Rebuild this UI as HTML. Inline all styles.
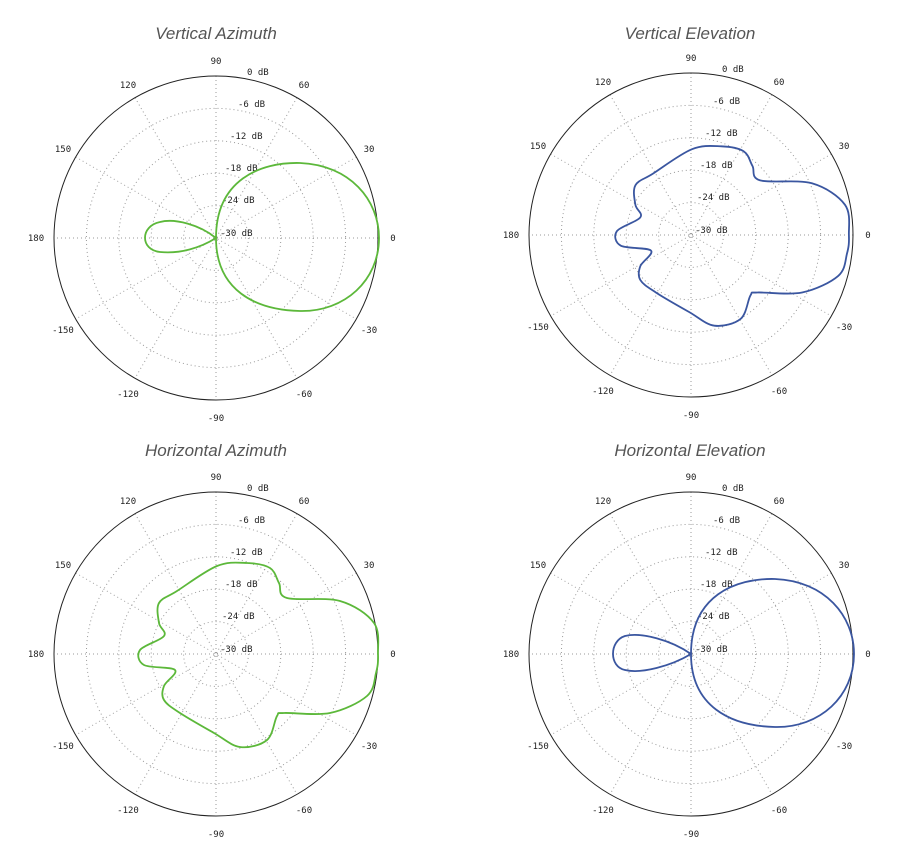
<!DOCTYPE html>
<html><head><meta charset="utf-8"><style>
html,body{margin:0;padding:0;background:#fff;}
svg{display:block}
.t{font-family:"Liberation Sans",sans-serif;font-style:italic;font-size:17px;fill:#555;text-anchor:middle}
.a{font-family:"DejaVu Sans Mono","Liberation Mono",monospace;font-size:9px;fill:#222;text-anchor:middle}
.d{font-family:"DejaVu Sans Mono","Liberation Mono",monospace;font-size:9px;fill:#222}
</style></head><body>
<svg id="s" width="912" height="856" viewBox="0 0 912 856" xmlns="http://www.w3.org/2000/svg">
<text class="t" x="216" y="39">Vertical Azimuth</text>
<text class="t" x="690" y="39">Vertical Elevation</text>
<text class="t" x="216" y="456">Horizontal Azimuth</text>
<text class="t" x="690" y="456">Horizontal Elevation</text>
<g id="g0" transform="translate(216,238)"><g class="grid"></g>
<text class="a" x="177" y="3">0</text><text class="a" x="153" y="-86">30</text><text class="a" x="88" y="-150">60</text><text class="a" x="0" y="-174">90</text><text class="a" x="-88" y="-150">120</text><text class="a" x="-153" y="-86">150</text><text class="a" x="-180" y="3">180</text><text class="a" x="-153" y="95">-150</text><text class="a" x="-88" y="159">-120</text><text class="a" x="0" y="183">-90</text><text class="a" x="88" y="159">-60</text><text class="a" x="153" y="95">-30</text>
<text class="d" x="31" y="-163">0 dB</text><text class="d" x="22" y="-131">-6 dB</text><text class="d" x="14" y="-99">-12 dB</text><text class="d" x="9" y="-67">-18 dB</text><text class="d" x="6" y="-35">-24 dB</text><text class="d" x="4" y="-2">-30 dB</text>
</g>
<g id="g1" transform="translate(691,235)"><g class="grid"></g>
<text class="a" x="177" y="3">0</text><text class="a" x="153" y="-86">30</text><text class="a" x="88" y="-150">60</text><text class="a" x="0" y="-174">90</text><text class="a" x="-88" y="-150">120</text><text class="a" x="-153" y="-86">150</text><text class="a" x="-180" y="3">180</text><text class="a" x="-153" y="95">-150</text><text class="a" x="-88" y="159">-120</text><text class="a" x="0" y="183">-90</text><text class="a" x="88" y="159">-60</text><text class="a" x="153" y="95">-30</text>
<text class="d" x="31" y="-163">0 dB</text><text class="d" x="22" y="-131">-6 dB</text><text class="d" x="14" y="-99">-12 dB</text><text class="d" x="9" y="-67">-18 dB</text><text class="d" x="6" y="-35">-24 dB</text><text class="d" x="4" y="-2">-30 dB</text>
</g>
<g id="g2" transform="translate(216,654)"><g class="grid"></g>
<text class="a" x="177" y="3">0</text><text class="a" x="153" y="-86">30</text><text class="a" x="88" y="-150">60</text><text class="a" x="0" y="-174">90</text><text class="a" x="-88" y="-150">120</text><text class="a" x="-153" y="-86">150</text><text class="a" x="-180" y="3">180</text><text class="a" x="-153" y="95">-150</text><text class="a" x="-88" y="159">-120</text><text class="a" x="0" y="183">-90</text><text class="a" x="88" y="159">-60</text><text class="a" x="153" y="95">-30</text>
<text class="d" x="31" y="-163">0 dB</text><text class="d" x="22" y="-131">-6 dB</text><text class="d" x="14" y="-99">-12 dB</text><text class="d" x="9" y="-67">-18 dB</text><text class="d" x="6" y="-35">-24 dB</text><text class="d" x="4" y="-2">-30 dB</text>
</g>
<g id="g3" transform="translate(691,654)"><g class="grid"></g>
<text class="a" x="177" y="3">0</text><text class="a" x="153" y="-86">30</text><text class="a" x="88" y="-150">60</text><text class="a" x="0" y="-174">90</text><text class="a" x="-88" y="-150">120</text><text class="a" x="-153" y="-86">150</text><text class="a" x="-180" y="3">180</text><text class="a" x="-153" y="95">-150</text><text class="a" x="-88" y="159">-120</text><text class="a" x="0" y="183">-90</text><text class="a" x="88" y="159">-60</text><text class="a" x="153" y="95">-30</text>
<text class="d" x="31" y="-163">0 dB</text><text class="d" x="22" y="-131">-6 dB</text><text class="d" x="14" y="-99">-12 dB</text><text class="d" x="9" y="-67">-18 dB</text><text class="d" x="6" y="-35">-24 dB</text><text class="d" x="4" y="-2">-30 dB</text>
</g>
</svg>
<script>
var NS="http://www.w3.org/2000/svg";
function el(p,n,a){var e=document.createElementNS(NS,n);for(var k in a)e.setAttribute(k,a[k]);p.appendChild(e);return e;}
var R=162;
for(var i=0;i<4;i++){
  var g=document.querySelector('#g'+i+' .grid');
  for(var k=1;k<5;k++) el(g,'circle',{cx:0,cy:0,r:R*k/5,fill:'none',stroke:'#999','stroke-width':1,'stroke-dasharray':'1 3'});
  for(var a=0;a<180;a+=30){var r=a*Math.PI/180;
    el(g,'line',{x1:R*Math.cos(r),y1:-R*Math.sin(r),x2:-R*Math.cos(r),y2:R*Math.sin(r),stroke:'#999','stroke-width':1,'stroke-dasharray':'1 3'});}
  el(g,'circle',{cx:0,cy:0,r:R,fill:'none',stroke:'#222','stroke-width':1});
}
function cr(p){var n=p.length,d='M'+p[0][0]+','+p[0][1];
  for(var i=0;i<n;i++){var p0=p[(i-1+n)%n],p1=p[i],p2=p[(i+1)%n],p3=p[(i+2)%n];
    d+=' C'+(p1[0]+(p2[0]-p0[0])/6).toFixed(1)+','+(p1[1]+(p2[1]-p0[1])/6).toFixed(1)+' '+(p2[0]-(p3[0]-p1[0])/6).toFixed(1)+','+(p2[1]-(p3[1]-p1[1])/6).toFixed(1)+' '+p2[0]+','+p2[1];}
  return d+'Z';}
var lob=[[162,0],[158,-31],[124,-53],[71,-56],[63,-71],[54,-86],[31,-91],[1,-88],[-39,-63],[-57,-51],[-57,-31],[-52,-18],[-76,-4],[-72,11],[-41,16],[-52,32],[-52,46],[-36,59],[-2,79],[24,93],[51,86],[61,62],[68,59],[114,59],[151,42],[160,19]];
var GR='#5cb83a',BL='#3a56a0';
var main='M0,0 C0,-58 44,-76 84,-75 C134,-73 163,-38 163,0 C163,42 129,74 84,73 C39,72 0,52 0,0Z';
el(document.getElementById('g0'),'path',{d:main,fill:'none',stroke:GR,'stroke-width':1.8});
el(document.getElementById('g0'),'path',{d:'M0,0 C-16,-13 -41,-20 -56,-16 C-76,-12 -76,12 -56,14 C-36,16 -16,10 0,0Z',fill:'none',stroke:GR,'stroke-width':1.8});
el(document.getElementById('g3'),'path',{d:main,fill:'none',stroke:BL,'stroke-width':1.8});
el(document.getElementById('g3'),'path',{d:'M0,0 C-20,-14 -50,-22 -66,-18 C-82,-13 -82,13 -66,16 C-50,20 -20,12 0,0Z',fill:'none',stroke:BL,'stroke-width':1.8});
el(document.getElementById('g2'),'path',{d:cr(lob),fill:'none',stroke:GR,'stroke-width':1.8});
el(document.getElementById('g1'),'path',{d:cr(lob.map(function(p){return [+(p[0]*0.975).toFixed(1),+(p[1]*0.975).toFixed(1)];})),fill:'none',stroke:BL,'stroke-width':1.8});
</script>
</body></html>
